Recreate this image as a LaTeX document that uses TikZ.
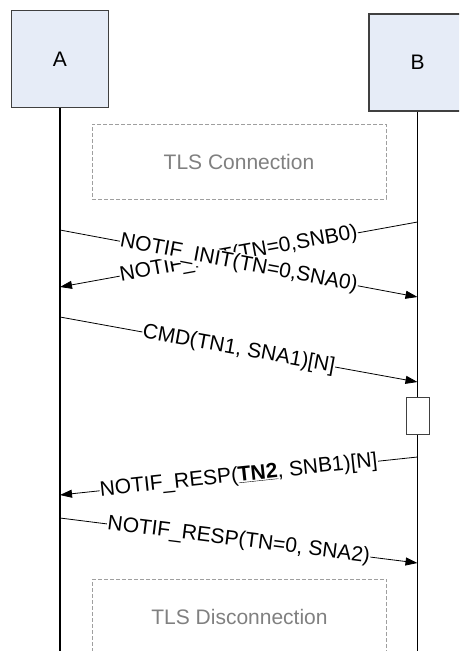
\documentclass[tikz,border=0pt]{standalone}
\usepackage{fontspec}
\setmainfont{Liberation Sans}
\usetikzlibrary{arrows.meta}
\usetikzlibrary{positioning}
\definecolor{boxfill}{RGB}{230,236,247}
\definecolor{boxline}{RGB}{64,64,64}
\tikzset{party node/.style={rectangle,fill=boxfill,draw=boxline,line width=1.2pt,minimum width=97pt,minimum height=97pt,inner sep=0pt},  }

\begin{document}
\begin{tikzpicture}[x=1pt,y=-1pt,-{Triangle[length=12pt,width=8pt]},line width=0.8pt,node distance=357.5pt,
        font=\fontsize{21}{25}\selectfont,
        msg/.style={midway,sloped,fill=white,inner sep=0.5pt},
        tls node/.style={draw=gray!75,dash pattern=on 4pt off 2pt,text=gray,minimum width=294pt,minimum height=75pt}]
   \useasboundingbox (0,0) rectangle (459,651);
   \clip (0,0) rectangle (459,651);
   \node[party node] (A) at (60,59) {A};
    \node[party node] (B) [right of=A,yshift=-3.5pt]  {B};
    \coordinate (bottom) at (0,651);

    % lifelines
    \path[-,draw,line width=1.6pt]
    (A.south) edge (A.south |- bottom)
    (B.south) edge (B.south |- bottom);

    \node[tls node] (tlsc) at (239,161.5) {TLS Connection};
    \node[tls node] (tlsd) at (239.5,616.5) {TLS Disconnection};

    % message ends on the lifelines
    \coordinate (b0) at (417.5,222);  \coordinate (a0) at (60,287);
    \coordinate (a1) at (60,230);     \coordinate (b1) at (417.5,297);
    \coordinate (a2) at (60,317);     \coordinate (b2) at (417.5,382);
    \coordinate (b3) at (417.5,457);  \coordinate (a3) at (60,495);
    \coordinate (a4) at (60,518);     \coordinate (b4) at (417.5,563);

    \draw (b0) -- node[msg] {NOTIF\_INIT(TN=0,SNB0)} (a0);
    \draw (a1) -- node[msg] {NOTIF\_INIT(TN=0,SNA0)} (b1);
    \draw (a2) -- node[msg] {CMD(TN1, SNA1)[N]} (b2);
      \node[draw=boxline,fill=white,line width=0.8pt,minimum width=23pt,minimum height=37pt,inner sep=0pt] (act) at (417.5,415.5) {};
    \draw (b3) -- node[msg] {NOTIF\_RESP(\underline{\textbf{TN2}}, SNB1)[N]} (a3);
    \draw (a4) -- node[msg] {NOTIF\_RESP(TN=0, SNA2)} (b4);
\end{tikzpicture}
\end{document}
